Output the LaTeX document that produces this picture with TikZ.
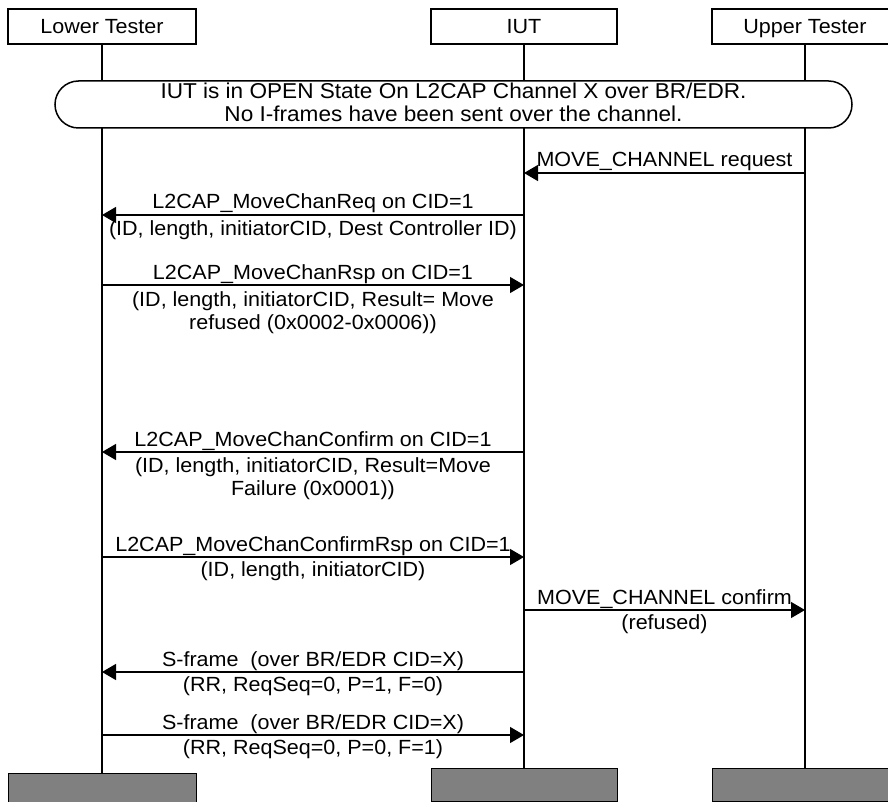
\documentclass[tikz,border=0pt]{standalone}
\usepackage{fontspec}
\setmainfont[FakeStretch=1.05]{Liberation Sans}
\usetikzlibrary{arrows.meta}
\begin{document}
\begin{tikzpicture}[x=1pt,y=-1pt,
  txt/.style={font=\fontsize{20.5}{23}\selectfont, inner sep=0pt},
  lbl/.style={txt, anchor=base},
  actor/.style={txt, draw, line width=1.5pt, fill=white, minimum width=188pt, minimum height=35pt, text height=15pt, text depth=0pt},
  endbox/.style={draw, line width=1pt, fill=black!50, minimum width=186pt, minimum height=33pt, inner sep=0pt},
  life/.style={line width=2pt},
  msg/.style={line width=1.3pt, -{Triangle[length=14pt,width=16pt]}},
  state/.style={draw, line width=1.5pt, fill=white, rounded corners=23.5pt, minimum width=797pt, minimum height=47pt, inner sep=0pt}
]
\clip (0,0) rectangle (888,802);
\fill[white] (0,0) rectangle (888,802);
% actors
\node[actor] (lt) at (102,26.5) {Lower Tester};
\node[actor, minimum width=186pt] (iut) at (524,26.5) {IUT};
\node[actor, minimum width=186pt] (ut) at (805,26.5) {Upper Tester};
% end boxes
\node[endbox, minimum width=188pt, minimum height=37pt] (ltg) at (102,791.5) {};
\node[endbox] (iutg) at (524,784.5) {};
\node[endbox] (utg) at (805,784.5) {};
% lifelines
\draw[life] (lt.south) -- (ltg.north);
\draw[life] (iut.south) -- (iutg.north);
\draw[life] (ut.south) -- (utg.north);
% state
\node[state] (st) at (453.5,104.5) {};
\node[lbl, font=\fontsize{21.5}{23}\selectfont] (sta) at (st.center |- 0,99) {IUT is in OPEN State On L2CAP Channel X over BR/EDR.};
\node[lbl, font=\fontsize{21.5}{23}\selectfont] (stb) at (st.center |- 0,122) {No I-frames have been sent over the channel.};
% message end points
\coordinate (u1) at (805,173); \coordinate (i1) at (524,173);
\coordinate (i2) at (524,215); \coordinate (l2) at (102,215);
\coordinate (l3) at (102,285); \coordinate (i3) at (524,285);
\coordinate (i4) at (524,452); \coordinate (l4) at (102,452);
\coordinate (l5) at (102,557); \coordinate (i5) at (524,557);
\coordinate (i6) at (524,610); \coordinate (u6) at (805,610);
\coordinate (i7) at (524,672); \coordinate (l7) at (102,672);
\coordinate (l8) at (102,735); \coordinate (i8) at (524,735);
% messages
\draw[msg] (u1) -- (i1);
\node[lbl] (m1a) at (664.5,167) {MOVE\_CHANNEL request};

\draw[msg] (i2) -- (l2);
\node[lbl] (m2a) at (313,209) {L2CAP\_MoveChanReq on CID=1};
\node[lbl] (m2b) at (313,236) {(ID, length, initiatorCID, Dest Controller ID)};

\draw[msg] (l3) -- (i3);
\node[lbl] (m3a) at (313,279) {L2CAP\_MoveChanRsp on CID=1};
\node[lbl] (m3b) at (313,306) {(ID, length, initiatorCID, Result= Move};
\node[lbl] (m3c) at (313,329) {refused (0x0002-0x0006))};

\draw[msg] (i4) -- (l4);
\node[lbl] (m4a) at (313,446) {L2CAP\_MoveChanConfirm on CID=1};
\node[lbl] (m4b) at (313,472) {(ID, length, initiatorCID, Result=Move};
\node[lbl] (m4c) at (313,495) {Failure (0x0001))};

\draw[msg] (l5) -- (i5);
\node[lbl] (m5a) at (313,551) {L2CAP\_MoveChanConfirmRsp on CID=1};
\node[lbl] (m5b) at (313,576) {(ID, length, initiatorCID)};

\draw[msg] (i6) -- (u6);
\node[lbl] (m6a) at (664.5,604) {MOVE\_CHANNEL confirm};
\node[lbl] (m6b) at (664.5,629) {(refused)};

\draw[msg] (i7) -- (l7);
\node[lbl] (m7a) at (313,666) {S-frame~~(over BR/EDR CID=X)};
\node[lbl] (m7b) at (313,691) {(RR, ReqSeq=0, P=1, F=0)};

\draw[msg] (l8) -- (i8);
\node[lbl] (m8a) at (313,729) {S-frame~~(over BR/EDR CID=X)};
\node[lbl] (m8b) at (313,754) {(RR, ReqSeq=0, P=0, F=1)};
\end{tikzpicture}
\end{document}
